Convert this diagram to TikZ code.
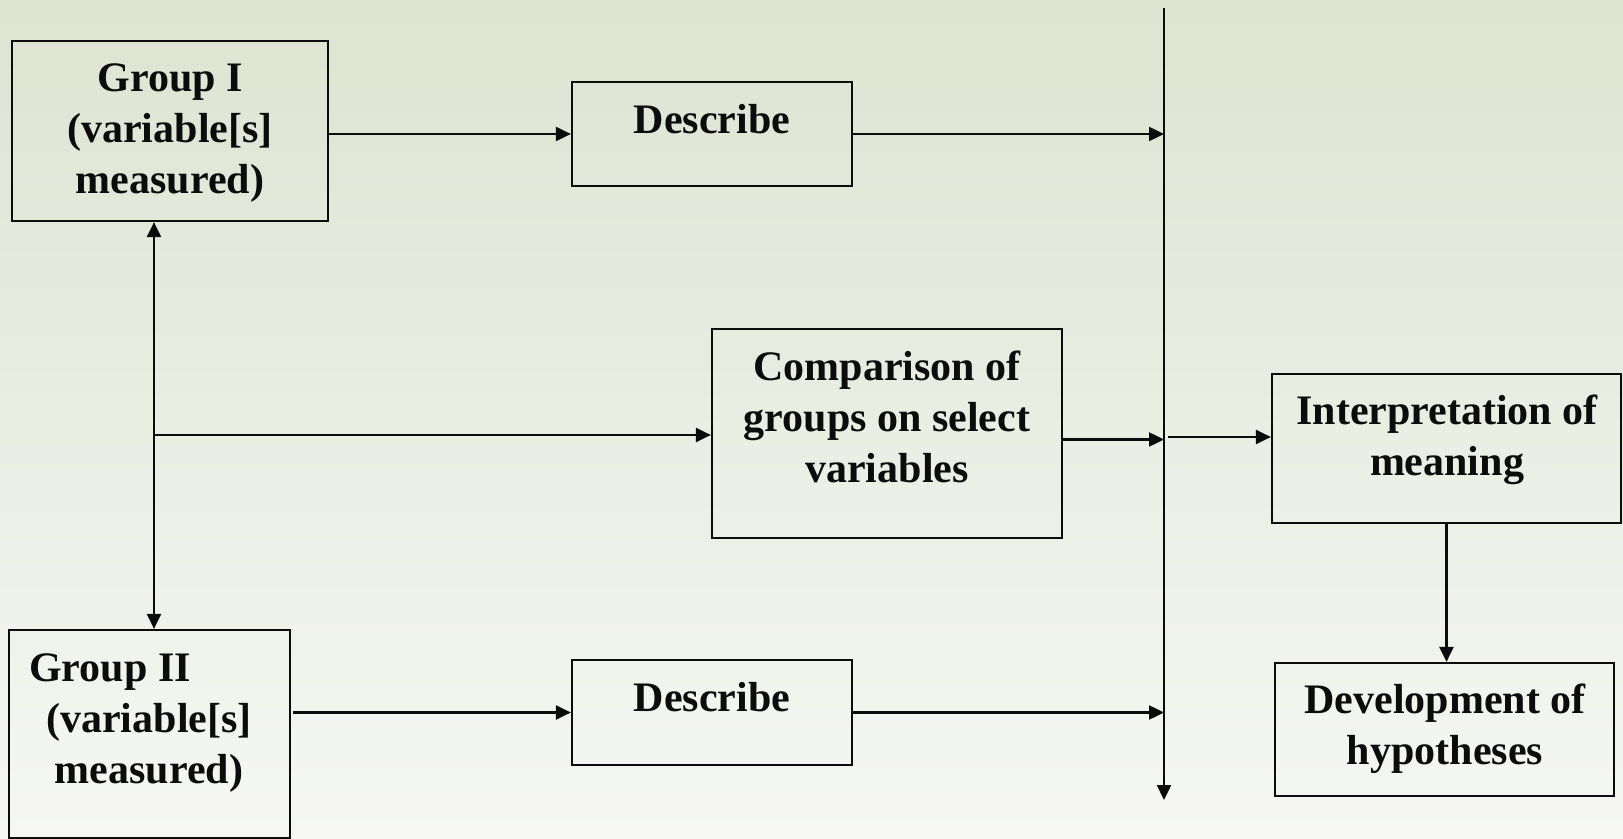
\documentclass[tikz,border=0pt]{standalone}
\usepackage{fontspec}
\setmainfont{Liberation Serif}
\usetikzlibrary{arrows.meta,calc}
\definecolor{bgtop}{RGB}{221,228,209}
\definecolor{bgmid}{RGB}{237,240,231}
\definecolor{bgbot}{RGB}{246,247,244}
\definecolor{ink}{RGB}{12,12,12}
\tikzset{
  box/.style={draw=ink, line width=1.1pt, rectangle, inner sep=0pt},
  txt/.style={font=\fontsize{21pt}{25.5pt}\selectfont\bfseries, align=center, inner sep=0pt, text=ink},
  conn/.style={draw=ink, line width=1.2pt, -{Triangle[length=7.5pt,width=7pt]}},
  conntwo/.style={draw=ink, line width=1.2pt, {Triangle[length=7.5pt,width=7pt]}-{Triangle[length=7.5pt,width=7pt]}},
}
\begin{document}
\begin{tikzpicture}[x=0.5pt,y=-0.5pt]
\useasboundingbox (0,0) rectangle (1623,839);
\shade[top color=bgtop, middle color=bgmid, bottom color=bgbot] (0,0) rectangle (1623,839);

% boxes
\node[box, minimum width=158pt, minimum height=90pt] (g1) at (170,131) {};
\node[txt] (g1t) at (170,133) {Group I\\(variable[s]\\measured)};

\node[box, minimum width=140pt, minimum height=52pt] (d1) at (712,134) {};
\node[txt] (d1t) at (712,119) {Describe};

\node[box, minimum width=175pt, minimum height=104.5pt] (comp) at (887,433.5) {};
\node[txt] (compt) at (887,417) {Comparison of\\groups on select\\variables};

\node[box, minimum width=174.5pt, minimum height=74.5pt] (interp) at (1446.5,448.5) {};
\node[txt] (interpt) at (1447,440) {Interpretation of\\meaning};

\node[box, minimum width=169.5pt, minimum height=66.5pt] (dev) at (1444.5,729.5) {};
\node[txt] (devt) at (1445,729) {Development of\\hypotheses};

\node[box, minimum width=140pt, minimum height=52.5pt] (d2) at (712,712.5) {};
\node[txt] (d2t) at (712,697.5) {Describe};

\node[box, minimum width=140.5pt, minimum height=104pt] (g2) at (149.5,734) {};
\node[txt] (g2t) at (149,723) {Group II\hspace*{39pt}\\(variable[s]\\measured)};

% vertical collector line
\coordinate (vtop) at (1164,8);
\coordinate (vbot) at (1164,800);
\draw[conn] (vtop) -- (vbot);

% junction on left
\coordinate (j) at (154,435);
\draw[conntwo] (j |- g1.south) -- (j |- g2.north);
\draw[conn] (j) -- (comp.west |- j);

% top row
\draw[conn] (g1.east |- d1.west) -- (d1.west);
\draw[conn] (d1.east) -- (d1.east -| vtop);

% bottom row
\coordinate (g2o) at (293,712.5);
\draw[conn] (g2o) -- (g2o -| d2.west);
\draw[conn] (d2.east) -- (d2.east -| vtop);

% comparison to collector
\coordinate (c2) at ([yshift=-3pt]comp.east);
\draw[conn] (c2) -- (c2 -| vtop);

% collector to interpretation
\coordinate (i1) at (1168,437);
\draw[conn] (i1) -- (i1 -| interp.west);

% interpretation to development
\draw[conn] (interp.south) -- (interp.south |- dev.north);
\end{tikzpicture}
\end{document}
